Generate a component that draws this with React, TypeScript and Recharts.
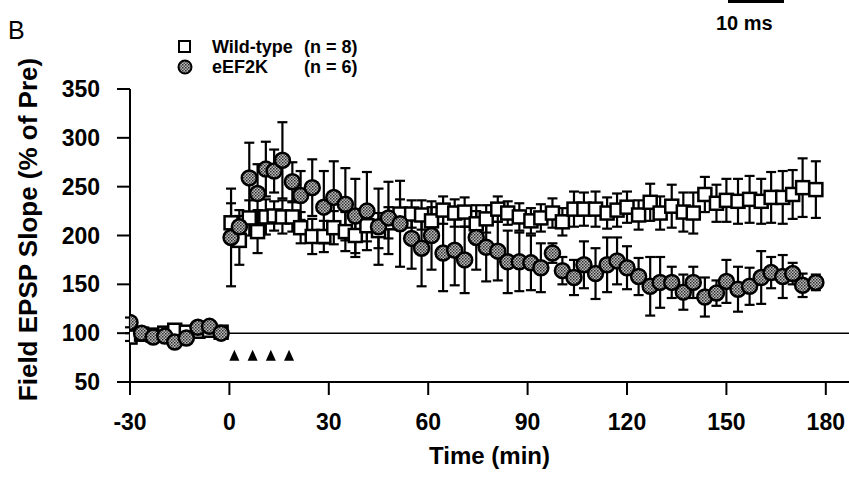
import React from "react";
import { ScatterChart, Scatter, XAxis, YAxis, ErrorBar, ReferenceLine } from "recharts";

// time points (min)
const baseTimes = [-30, -26.5, -23, -19.5, -16.5, -13, -9.5, -6, -2.5];
const postTimes = [
  0.5, 3, 6, 8.5, 11, 13.5, 16, 19, 21.5, 25,
  28.5, 31.5, 35, 38, 41.5, 45, 48, 51.5, 55, 58,
  61, 64.5, 68, 71, 74.5, 77.5, 81, 84, 87.5, 91,
  94, 97.5, 100.5, 104, 107, 110.5, 114, 117, 120, 123.5,
  127, 130, 133.5, 137, 140, 143.5, 147, 150, 153.5, 157,
  160.5, 163.5, 167, 170, 173, 177,
];

// Wild-type (n = 8)
const wtBase = [96, 99, 98, 100, 103, 101, 102, 103, 101];
const wtBaseErr = [4, 3, 3, 3, 3, 3, 3, 3, 3];
const wtPost = [
  213, 195, 218, 204, 219, 220, 219, 219, 208, 199,
  199, 208, 204, 200, 210, 205, 213, 222, 222, 221,
  215, 226, 223, 224, 212, 217, 227, 223, 219, 215,
  218, 223, 214, 227, 227, 227, 223, 226, 229, 221,
  234, 223, 230, 224, 223, 242, 233, 236, 235, 237,
  235, 239, 239, 242, 249, 247,
];
const wtPostErr = [
  20, 25, 18, 22, 18, 15, 17, 15, 16, 18,
  16, 17, 20, 22, 16, 18, 16, 15, 14, 15,
  14, 14, 14, 15, 13, 14, 13, 12, 14, 13,
  14, 15, 14, 18, 17, 18, 16, 17, 16, 15,
  19, 17, 22, 20, 21, 18, 19, 22, 23, 24,
  23, 26, 27, 25, 30, 29,
];

// eEF2K (n = 6)
const koBase = [111, 100, 96, 97, 91, 95, 106, 107, 100];
const koBaseErr = [5, 4, 4, 4, 5, 4, 4, 4, 4];
const koPost = [
  198, 209, 259, 243, 268, 266, 277, 255, 241, 249,
  229, 239, 232, 220, 225, 209, 218, 212, 197, 187,
  200, 182, 185, 175, 198, 188, 184, 173, 173, 172,
  167, 182, 164, 157, 170, 161, 170, 174, 167, 158,
  148, 152, 152, 142, 152, 137, 141, 153, 145, 148,
  157, 162, 158, 161, 149, 152,
];
const koPostErr = [
  50, 17, 36, 30, 28, 22, 39, 20, 25, 29,
  37, 37, 37, 38, 40, 39, 37, 44, 31, 39,
  35, 39, 36, 34, 33, 35, 30, 32, 30, 28,
  25, 10, 14, 18, 24, 26, 28, 24, 22, 19,
  30, 26, 16, 18, 16, 20, 13, 22, 23, 19,
  27, 16, 22, 11, 12, 8,
];

// tetanus trains
const tetanusTimes = [1.5, 7, 12.5, 18];
const tetanusLevel = 77;

const xTicks = [-30, 0, 30, 60, 90, 120, 150, 180];
const yTicks = [50, 100, 150, 200, 250, 300, 350];

const legendNames = ["Wild-type", "eEF2K"];
const legendN = ["(n = 8)", "(n = 6)"];

const times = [...baseTimes, ...postTimes];
const wtData = times.map((t, i) => ({
  t,
  v: [...wtBase, ...wtPost][i],
  e: [...wtBaseErr, ...wtPostErr][i],
}));
const koData = times.map((t, i) => ({
  t,
  v: [...koBase, ...koPost][i],
  e: [...koBaseErr, ...koPostErr][i],
}));
const tetData = tetanusTimes.map((t) => ({ t, v: tetanusLevel }));

const FONT = "'Liberation Sans', Arial, sans-serif";

const Square = (p: any) => (
  <rect x={p.cx - 6.5} y={p.cy - 6.5} width={13} height={13} fill="#fff" stroke="#000" strokeWidth={2.5} />
);
const Dot = (p: any) => (
  <circle cx={p.cx} cy={p.cy} r={7.5} fill="url(#stipple)" stroke="#000" strokeWidth={2.5} />
);
const Tri = (p: any) => (
  <polygon
    points={`${p.cx},${p.cy - 6} ${p.cx - 5},${p.cy + 5} ${p.cx + 5},${p.cy + 5}`}
    fill="#000"
  />
);

export default function App() {
  const tickStyle = { fontSize: 23, fontWeight: 700, fill: "#000", fontFamily: FONT };
  return (
    <div style={{ position: "relative", width: 849, height: 477, background: "#fff", fontFamily: FONT }}>
      <style>{"body{margin:0}"}</style>
      <ScatterChart width={849} height={477} margin={{ top: 89, right: 0, bottom: 0, left: 0 }}>
        <defs>
          <pattern id="stipple" width="3" height="3" patternUnits="userSpaceOnUse">
            <rect width="3" height="3" fill="#bdbdbd" />
            <rect width="1.5" height="1.5" fill="#2a2a2a" />
            <rect x="1.5" y="1.5" width="1.5" height="1.5" fill="#4a4a4a" />
          </pattern>
        </defs>
        <XAxis
          type="number"
          dataKey="t"
          domain={[-30, 187]}
          ticks={xTicks}
          allowDataOverflow
          height={95}
          stroke="#000"
          strokeWidth={2}
          tickSize={13}
          tickMargin={19}
          tick={tickStyle}
          label={{ value: "Time (min)", position: "insideBottom", offset: 13, style: { ...tickStyle, fontSize: 24 } }}
        />
        <YAxis
          type="number"
          dataKey="v"
          domain={[50, 350]}
          ticks={yTicks}
          allowDataOverflow
          width={130}
          stroke="#000"
          strokeWidth={2}
          tickSize={13}
          tickMargin={17}
          tick={tickStyle}
          label={{
            value: "Field EPSP Slope (% of Pre)",
            angle: -90,
            position: "insideLeft",
            offset: 28,
            dy: -6,
            style: { ...tickStyle, fontSize: 26, textAnchor: "middle" },
          }}
        />
        <ReferenceLine y={100} stroke="#000" strokeWidth={1.5} />
        <Scatter data={wtData} dataKey="v" shape={Square} isAnimationActive={false}>
          <ErrorBar dataKey="e" direction="y" width={5} stroke="#000" strokeWidth={2.2} />
        </Scatter>
        <Scatter data={koData} dataKey="v" shape={Dot} isAnimationActive={false}>
          <ErrorBar dataKey="e" direction="y" width={5} stroke="#000" strokeWidth={2.2} />
        </Scatter>
        <Scatter data={tetData} dataKey="v" shape={Tri} isAnimationActive={false} />
      </ScatterChart>

      <div style={{ position: "absolute", left: 8, top: 16, fontSize: 25, fontWeight: 400 }}>B</div>
      <div style={{ position: "absolute", left: 728, top: 0, width: 56, height: 3, background: "#000" }} />
      <div style={{ position: "absolute", left: 716, top: 12, fontSize: 20, fontWeight: 700 }}>10 ms</div>

      <div style={{ position: "absolute", left: 176, top: 37, fontSize: 18, fontWeight: 700, lineHeight: "20px" }}>
        {legendNames.map((name, i) => (
          <div key={name} style={{ display: "flex", alignItems: "center", height: 20 }}>
            <svg width={18} height={18} style={{ marginRight: 18 }}>
              {i === 0 ? (
                <rect x={3} y={3} width={11} height={11} fill="#fff" stroke="#000" strokeWidth={2} />
              ) : (
                <circle cx={9} cy={9} r={6.5} fill="url(#stipple)" stroke="#000" strokeWidth={2} />
              )}
            </svg>
            <span style={{ width: 92 }}>{name}</span>
            <span>{legendN[i]}</span>
          </div>
        ))}
      </div>
    </div>
  );
}
